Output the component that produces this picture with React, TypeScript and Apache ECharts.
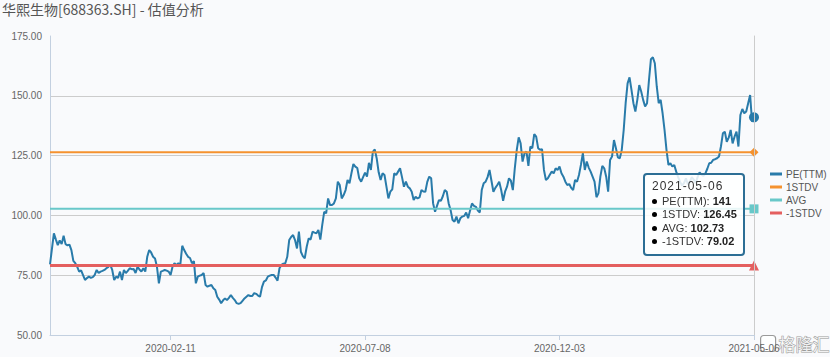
import React, { useEffect, useRef } from "react";
import * as echarts from "echarts";

// ---- data ----
const TITLE = "华熙生物[688363.SH] - 估值分析";
const START_DATE = "2019-11-06";
const END_DATE = "2021-05-06";
const HOLIDAYS = [
  "2020-01-01", "2020-01-24", "2020-01-27", "2020-01-28", "2020-01-29", "2020-01-30", "2020-01-31",
  "2020-04-06", "2020-05-01", "2020-05-04", "2020-05-05", "2020-06-25", "2020-06-26",
  "2020-10-01", "2020-10-02", "2020-10-05", "2020-10-06", "2020-10-07", "2020-10-08",
  "2021-01-01", "2021-02-11", "2021-02-12", "2021-02-15", "2021-02-16", "2021-02-17",
  "2021-04-05", "2021-05-03", "2021-05-04", "2021-05-05",
];
const SERIES_NAMES = ["PE(TTM)", "1STDV", "AVG", "-1STDV"];
const PE_TTM = [
  79.5, 86, 92.5, 90, 87.6, 89.5, 88, 91.5, 88, 87.5,
  87.8, 85.5, 81, 80, 78.5, 76.5, 77, 75, 73, 73.8,
  74.4, 73.9, 74.2, 75.1, 77.2, 75.9, 76.5, 76.8, 77.2, 77.9,
  78.5, 79.3, 77.2, 73, 74.4, 73.9, 76.5, 73, 77.2, 75.9,
  76.8, 77.9, 77.5, 77.6, 75.9, 78.5, 77.4, 76.5, 77.9, 76.5,
  82.7, 85.5, 84.5, 82.7, 82, 78.5, 71.6, 76.5, 76.8, 77.2,
  76.9, 76.5, 75.1, 78.5, 80, 79.3, 80, 79.3, 87.3, 85.5,
  84, 82.7, 82.2, 80, 80.9, 71.6, 74.4, 74.8, 75.1, 75.9,
  70.9, 70.2, 70.6, 70.9, 69.5, 68.8, 66, 64.8, 63.3, 64.5,
  65.3, 64.6, 65.5, 66.7, 65.5, 64.6, 63.3, 63, 63.3, 64.3,
  65.3, 66, 66.7, 66.3, 66.3, 67.5, 67.2, 66.5, 66, 70,
  72.3, 72.8, 74.4, 74.8, 75.1, 75.1, 74, 72.7, 77.9, 79.3,
  79.8, 80, 82.7, 89.7, 91, 91.8, 89.7, 86.2, 93.2, 84.8,
  83, 82.1, 86.9, 90.4, 89.9, 93.2, 92.8, 92.5, 93.9, 89.9,
  96, 101.5, 100.9, 107.1, 104.3, 104.3, 105, 107.1, 114.1, 112.7,
  107.1, 108.5, 110.6, 114.8, 113.4, 117.6, 121.5, 120.4, 119.8, 115.5,
  114.1, 116, 117.9, 116.2, 122, 119, 126.6, 127.6, 123.8, 118,
  114.8, 117.6, 116.9, 112, 107.1, 109.9, 110.9, 117.6, 116.9, 118.3,
  119.7, 116, 112, 114.1, 112, 111.3, 109.9, 106.4, 107.8, 107.1,
  107.5, 110.6, 110, 109.9, 114, 116.2, 115.5, 105, 101.5, 104,
  106.4, 106.1, 108, 110.6, 109.9, 105, 102.2, 98.1, 97.4, 99.5,
  96.7, 98.8, 99.5, 99.8, 101.2, 98.8, 102, 105, 104, 103.6,
  102, 101.2, 110.6, 113.4, 114.1, 116, 119, 114.5, 109.9, 111.5,
  112.7, 114.1, 110.6, 106.1, 109.9, 112, 115.5, 114.5, 110.6, 119.7,
  127.3, 132.6, 130.1, 122.5, 126, 126.7, 120.7, 128.8, 128.1, 134,
  132.9, 128.1, 127.4, 127.7, 119, 114.8, 115.5, 117, 118.3, 117.6,
  119.7, 119, 120.4, 117.6, 116.2, 114.1, 112.7, 113.1, 111.5, 110.6,
  114.8, 114.1, 116.9, 121.1, 126, 119, 122.5, 120, 118.3, 116.2,
  114.1, 107.6, 109.2, 116.2, 120.7, 119.7, 116.2, 109.9, 123.2, 124.6,
  131.5, 128.1, 124.3, 123.9, 127.4, 135.7, 146.9, 155.2, 157.7, 152.5,
  146.9, 143.4, 148.3, 154.5, 151.8, 148.3, 145.5, 146.9, 156.6, 165.3,
  166.1, 163.6, 153.9, 146.9, 148.3, 142.7, 135.7, 127.4, 121.1, 121.8,
  120.4, 121.1, 118.3, 116, 114, 112.5, 113.5, 115.5, 113, 114,
  116, 115, 113.5, 116, 118, 117, 116.5, 117.6, 119.5, 121.8,
  122, 123.2, 123.5, 123.9, 124.6, 128.8, 134.3, 135, 130.8, 132.5,
  135.7, 130.1, 132.9, 135, 128.8, 142, 144.5, 142.7, 143.4, 146.9,
  150.3, 139.2, 141,
];
const STDV_UP = 126.45;
const AVG = 102.73;
const STDV_DOWN = 79.02;
const Y_MIN = 50;
const Y_MAX = 175;
const Y_INTERVAL = 25;
const LABEL_STEP = 100;

const COLORS = ["#297baa", "#f5922f", "#68c8c9", "#e45f5f"];

function tradingDays(start: string, end: string, holidays: string[]): string[] {
  const out: string[] = [];
  const hs = new Set(holidays);
  const [sy, sm, sd] = start.split("-").map(Number);
  const [ey, em, ed] = end.split("-").map(Number);
  let t = Date.UTC(sy, sm - 1, sd);
  const te = Date.UTC(ey, em - 1, ed);
  while (t <= te) {
    const d = new Date(t);
    const wd = d.getUTCDay();
    const s = d.toISOString().slice(0, 10);
    if (wd !== 0 && wd !== 6 && !hs.has(s)) out.push(s);
    t += 86400000;
  }
  return out;
}

const DATES = tradingDays(START_DATE, END_DATE, HOLIDAYS);

export default function App() {
  const ref = useRef<HTMLDivElement>(null);
  useEffect(() => {
    document.body.style.margin = "0";
    if (!ref.current) return;
    const chart = echarts.init(ref.current, undefined, { renderer: "svg" });
    const N = DATES.length;
    const lastIdx = N - 1;
    const showAt = (i: number) => (lastIdx - i) % LABEL_STEP === 0;
    const levels = [null, STDV_UP, AVG, STDV_DOWN];
    const symbols = ["circle", "diamond", "rect", "triangle"];
    const symSizes = [10, 9, 9, 10];
    const series: any[] = SERIES_NAMES.map((name, k) => {
      const data = k === 0 ? PE_TTM : DATES.map(() => levels[k] as number);
      return {
        name,
        type: "line",
        data,
        symbol: "none",
        showSymbol: false,
        color: COLORS[k],
        lineStyle: { width: k === 3 ? 3 : 2, color: COLORS[k] },
        emphasis: { disabled: true },
        markPoint: {
          silent: true,
          symbol: symbols[k],
          symbolSize: symSizes[k],
          label: { show: false },
          itemStyle: { color: COLORS[k] },
          data: [{ coord: [DATES[lastIdx], data[lastIdx]] }],
        },
      };
    });

    chart.setOption({
      animation: false,
      backgroundColor: "#f9fafc",
      textStyle: { fontFamily: "'Liberation Sans', Arial, sans-serif" },
      title: {
        text: TITLE,
        left: 2,
        top: 2,
        padding: 0,
        textStyle: {
          fontSize: 14,
          fontWeight: "normal",
          color: "#555",
          fontFamily: "'Noto Sans CJK SC', sans-serif",
        },
      },
      grid: { left: 50, right: 76, top: 36, bottom: 22, containLabel: false },
      legend: {
        orient: "vertical",
        left: 770,
        top: 168,
        icon: "rect",
        itemWidth: 12,
        itemHeight: 3,
        itemGap: 1,
        padding: 0,
        selectedMode: false,
        data: SERIES_NAMES,
        textStyle: { fontSize: 10, color: "#555", lineHeight: 12, padding: [0, 0, 0, -1] },
      },
      tooltip: {
        trigger: "axis",
        alwaysShowContent: true,
        showContent: true,
        transitionDuration: 0,
        position: [643, 173],
        backgroundColor: "rgba(255,255,255,0.85)",
        borderColor: "#2c6e95",
        borderWidth: 2,
        borderRadius: 4,
        padding: [3, 6, 6, 7],
        extraCssText: "box-shadow:none;",
        axisPointer: { type: "line", lineStyle: { color: "#ccc", width: 1, type: "solid" } },
        formatter: (params: any) => {
          const ps = Array.isArray(params) ? params : [params];
          const title = ps[0].axisValue;
          let html = `<div style="white-space:nowrap;font-family:'Liberation Sans',Arial,sans-serif;color:#333;">`;
          html += `<div style="font-size:12px;letter-spacing:1px;line-height:17px;">${title}</div>`;
          ps.forEach((p: any) => {
            html += `<div style="font-size:11px;line-height:13.3px;"><span style="display:inline-block;width:5px;height:5px;border-radius:50%;background:#000;margin-right:5px;vertical-align:1px;"></span>${p.seriesName}: <b style="color:#222">${p.value}</b></div>`;
          });
          html += `</div>`;
          return html;
        },
      },
      xAxis: {
        type: "category",
        boundaryGap: false,
        data: DATES,
        axisLine: { lineStyle: { color: "#c3d0e0", width: 1 } },
        axisTick: { show: true, interval: (i: number) => showAt(i), length: 5, lineStyle: { color: "#c3d0e0" } },
        axisLabel: { interval: (i: number) => showAt(i), color: "#666", fontSize: 10, margin: 8 },
        splitLine: { show: false },
      },
      yAxis: [
        {
          type: "value",
          min: Y_MIN,
          max: Y_MAX,
          interval: Y_INTERVAL,
          axisLine: { show: true, lineStyle: { color: "#c3d0e0" } },
          axisTick: { show: false },
          axisLabel: { color: "#666", fontSize: 10, margin: 8, formatter: (v: number) => v.toFixed(2) },
          splitLine: { show: true, showMaxLine: false, lineStyle: { color: "#cccccc", width: 1 } },
        },
        {
          type: "value",
          position: "right",
          min: Y_MIN,
          max: Y_MAX,
          interval: Y_INTERVAL,
          axisLine: { show: true, lineStyle: { color: "#cccccc" } },
          axisTick: { show: false },
          axisLabel: { show: false },
          splitLine: { show: false },
        },
      ],
      graphic: [
        {
          type: "group",
          left: 760,
          top: 334,
          z: 100,
          children: [
            {
              type: "rect",
              shape: { x: 0, y: 0, width: 15, height: 16, r: 3 },
              style: { fill: "rgba(255,255,255,0.85)", stroke: "#9a9a9a", lineWidth: 1.2 },
            },
            {
              type: "text",
              x: 18,
              y: -1,
              style: {
                text: "格隆汇",
                fontSize: 17,
                fontFamily: "'Noto Sans CJK SC', sans-serif",
                fill: "rgba(255,255,255,0.85)",
                stroke: "#9a9a9a",
                lineWidth: 1,
              },
            },
          ],
        },
      ],
      series,
    });

    const show = () => chart.dispatchAction({ type: "showTip", seriesIndex: 0, dataIndex: lastIdx });
    show();
    const t = setTimeout(show, 50);
    return () => {
      clearTimeout(t);
      chart.dispose();
    };
  }, []);
  return <div ref={ref} style={{ width: 830, height: 357 }} />;
}
